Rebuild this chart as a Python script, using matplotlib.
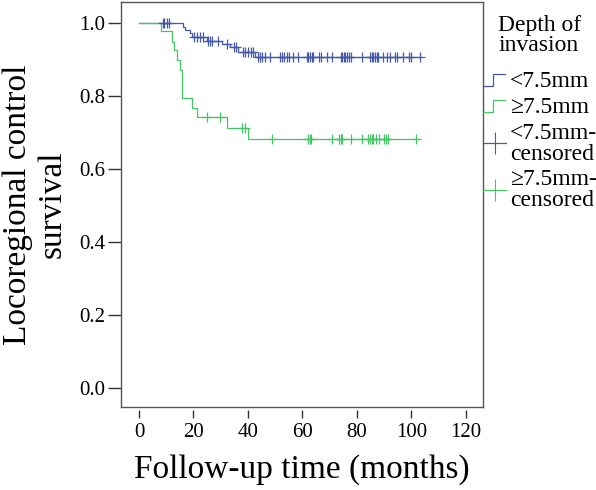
import numpy as np
import matplotlib
matplotlib.use('Agg')
from matplotlib import pyplot as plt
from matplotlib.lines import Line2D
from matplotlib.legend_handler import HandlerBase

plt.rcParams['font.family'] = ['Liberation Serif', 'DejaVu Serif']

# Kaplan-Meier steps
blue_times = [0, 16, 16.9, 18.7, 19.3, 24.8, 30.3, 33.4, 36.4, 42.6, 103.1]
blue_surv = [1.0, 0.990, 0.981, 0.972, 0.962, 0.952, 0.944, 0.935, 0.921, 0.906, 0.906]
blue_censor = [8.7, 9.3, 10.2, 11.1, 20.2, 21.2, 22.4, 23.4, 25.4, 26.1, 26.7, 29.1,
               32.2, 34.9, 35.6, 38.1, 38.9, 40.1, 41.0, 41.9, 43.6, 44.4, 45.2, 46.2,
               48.1, 51.7, 52.4, 53.2, 54.2, 55.2, 56.4, 58.5, 61.5, 62.1, 62.8, 63.4,
               64.0, 66.2, 67.0, 68.9, 70.7, 74.0, 74.6, 75.2, 75.8, 76.4, 77.1, 77.7,
               81.7, 84.8, 85.4, 86.0, 86.6, 87.2, 87.8, 89.7, 90.9, 92.1, 93.9, 94.8,
               97.0, 99.2, 99.8, 103.1]

green_times = [0, 8, 12, 12.8, 13.8, 15, 15.9, 19.3, 21.2, 32.2, 40.1, 102.1]
green_surv = [1.0, 0.979, 0.949, 0.926, 0.899, 0.871, 0.795, 0.767, 0.742, 0.712, 0.682, 0.682]
green_censor = [25.0, 29.7, 38.0, 38.9, 49.0, 62.1, 62.7, 63.3, 70.7, 73.5, 74.1, 74.5,
                77.8, 81.7, 84.2, 84.8, 85.4, 86.0, 87.0, 88.0, 89.9, 90.6, 91.5, 101.7]

labels = ['<7.5mm', '\u22657.5mm', '<7.5mm-\ncensored', '\u22657.5mm-\ncensored']
x_ticks = [0, 20, 40, 60, 80, 100, 120]
y_ticks = [0.0, 0.2, 0.4, 0.6, 0.8, 1.0]

blue = '#4658a8'
green = '#45c466'


def surv_at(times, surv, t):
    idx = np.searchsorted(times, t, side='right') - 1
    return np.asarray(surv)[idx]


class StepHandler(HandlerBase):
    def create_artists(self, legend, orig_handle, xdescent, ydescent,
                       width, height, fontsize, trans):
        xs = [0, 0.45 * width, 0.45 * width, 0.95 * width]
        ys = [0.05 * height, 0.05 * height, 0.75 * height, 0.75 * height]
        ln = Line2D(xs, ys, color=orig_handle.get_color(), lw=0.9, transform=trans)
        return [ln]


fig = plt.figure(figsize=(5.96, 4.9), dpi=100)
ax = fig.add_axes([0.203, 0.169, 0.607, 0.827])

ax.step(blue_times, blue_surv, where='post', color=blue, lw=0.9)
ax.step(green_times, green_surv, where='post', color=green, lw=0.9)
ax.plot(blue_censor, surv_at(blue_times, blue_surv, blue_censor), ls='none',
        marker='+', ms=6.5, mew=0.9, color=blue)
ax.plot(green_censor, surv_at(green_times, green_surv, green_censor), ls='none',
        marker='+', ms=6.5, mew=0.9, color=green)

ax.set_xlim(-6.6, 126.2)
ax.set_ylim(-0.052, 1.058)
for s in ax.spines.values():
    s.set_color('#555555')
    s.set_linewidth(1.0)

ax.set_yticks(y_ticks)
ax.set_yticklabels([f'{v:.1f}' for v in y_ticks], fontsize=15)
ax.tick_params(axis='y', length=9.5, width=1.0, color='#333333', pad=2)
ax.set_xticks([])

sec = ax.secondary_xaxis(-0.007)
sec.spines['bottom'].set_visible(False)
sec.set_xticks(x_ticks)
sec.set_xticklabels([str(v) for v in x_ticks], fontsize=15)
sec.tick_params(axis='x', length=6, width=1.0, color='#333333', pad=3)
sec.set_xlabel('Follow-up time (months)', fontsize=24, labelpad=9)

ax.set_ylabel('Locoregional control\nsurvival', fontsize=24, labelpad=8,
              linespacing=1.2)

handles = [Line2D([], [], color=blue), Line2D([], [], color=green),
           Line2D([], [], color=blue, marker='+', ms=16, mew=0.8, lw=0.8),
           Line2D([], [], color=green, marker='+', ms=16, mew=0.8, lw=0.8)]
hmap = {handles[0]: StepHandler(), handles[1]: StepHandler()}
leg = ax.legend(handles, labels, handler_map=hmap, loc='upper left',
                bbox_to_anchor=(1.0, 0.968), frameon=False, fontsize=17,
                title='Depth of\ninvasion', title_fontsize=17,
                handlelength=1.0, handletextpad=0.15, borderpad=0,
                borderaxespad=0, labelspacing=0.2)
leg.get_title().set_linespacing(0.95)
for t in leg.get_texts():
    t.set_linespacing(1.0)
# extra room between the title and the entries
leg._legend_box.sep = 10

fig.savefig('out.png', dpi=100)
